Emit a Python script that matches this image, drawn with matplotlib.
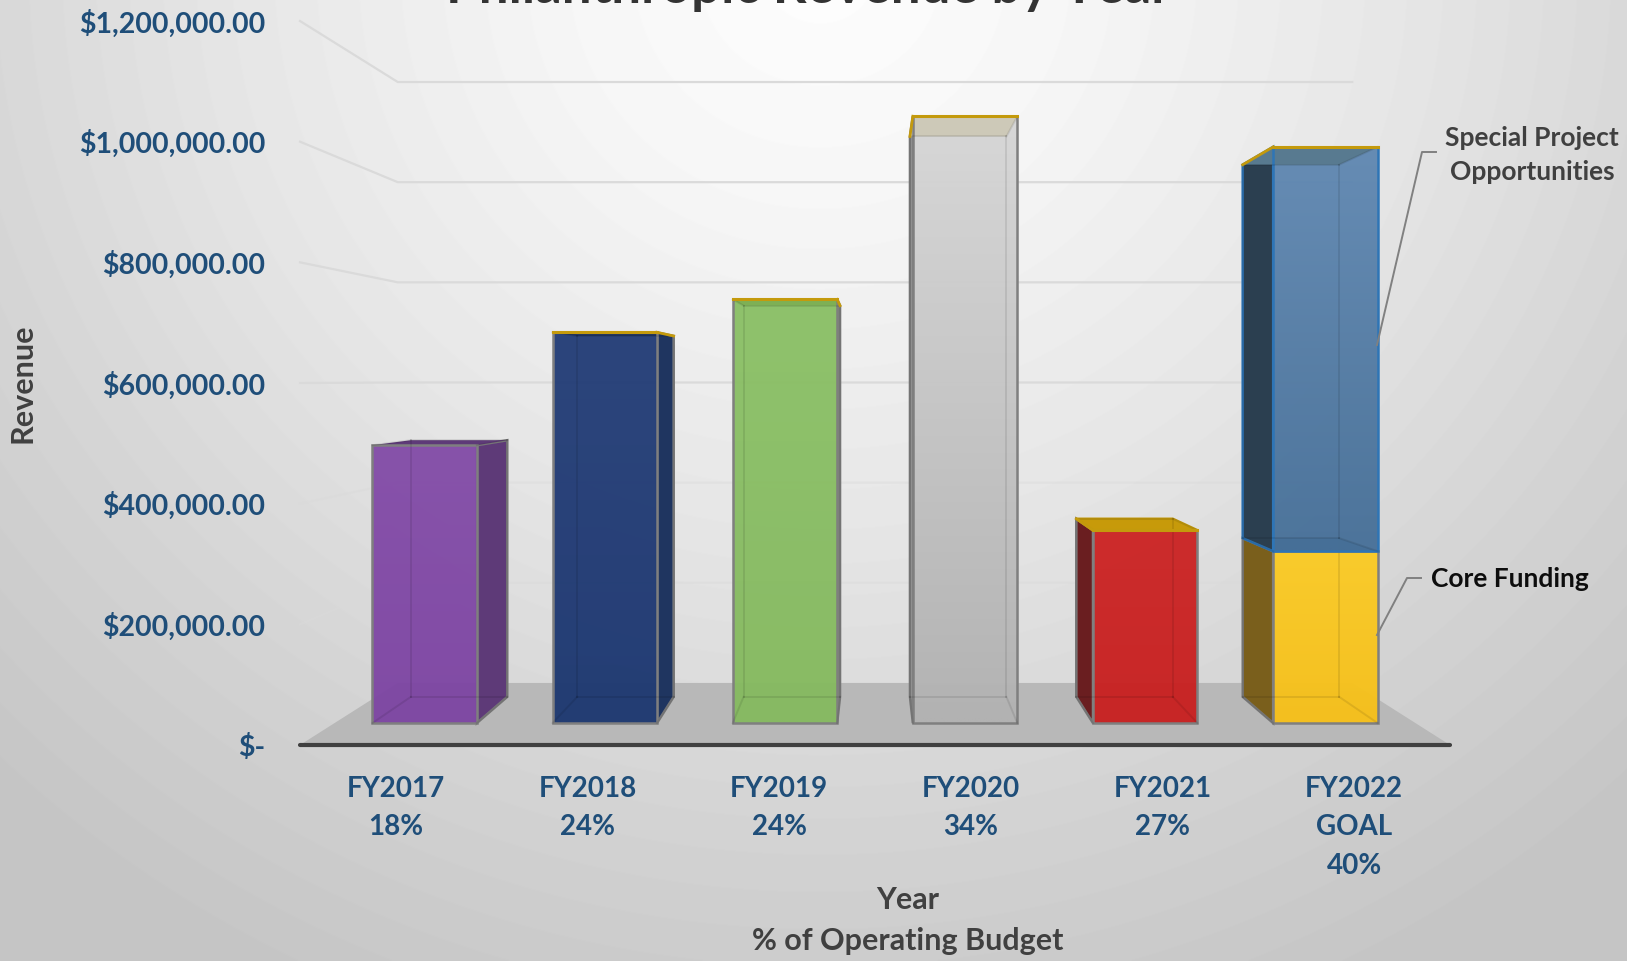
import numpy as np
import matplotlib
matplotlib.use('Agg')
import matplotlib.pyplot as plt
from matplotlib.colors import to_rgb
from matplotlib.lines import Line2D
from matplotlib.patches import Polygon

plt.rcParams['font.family'] = ['Lato', 'DejaVu Sans']
plt.rcParams['font.weight'] = 'bold'

W, H = 1627, 961

# data
YEARS = ['FY2017', 'FY2018', 'FY2019', 'FY2020', 'FY2021', 'FY2022\nGOAL']
PCT = ['18%', '24%', '24%', '34%', '27%', '40%']
CORE = [490000, 689000, 747000, 1070000, 340000, 303000]
SPECIAL = [0, 0, 0, 0, 0, 713000]
Y_TICKS = [0, 200000, 400000, 600000, 800000, 1000000, 1200000]
Y_LABELS = ['$-', '$200,000.00', '$400,000.00', '$600,000.00', '$800,000.00',
            '$1,000,000.00', '$1,200,000.00']

# face colours: front top, front bottom, side, top of box
CORE_FRONT = [('#834CA8', '#7D45A3'), ('#233D77', '#1C3770'), ('#8BC066', '#85BA5F'),
              ('#D6D6D6', '#B2B2B2'), ('#CC2424', '#C81F1F'), ('#FBCB24', '#F6C018')]
CORE_SIDE = ['#5E3A78', '#1F3560', '#6F9E52', '#A8A8A8', '#6A1E20', '#7A5F1C']
CORE_TOP = ['#5E3A78', '#1F3560', '#7EB055', '#CDC9B8', '#C79A0A', '#3F6888']
GOLD_EDGE = [False, True, True, True, True, False]
EDGE = '#7F7F7F'
SPECIAL_FRONT = ('#6088B2', '#477098')
SPECIAL_SIDE = '#2B3F50'
SPECIAL_TOP = '#587A90'
SPECIAL_EDGE = '#2E75B6'
GOLD = '#C49A0C'
BLUE_TEXT = '#1F4E79'
DARK_TEXT = '#404040'

# fake perspective, everything is shrunk towards this point
EYE_X = 2.5
EYE_Y = 605000
S_WALL = 0.83
S_FRONT = 0.94
S_BACK = 0.868
HALF = 0.29


def project(x, v, s):
	return (EYE_X + s * (x - EYE_X), EYE_Y + s * (v - EYE_Y))


def face(ax, pts, color, edge=None, z=3, lw=1.8, alpha=None):
	ax.add_patch(Polygon(pts, closed=True, facecolor=color, edgecolor=edge if edge else 'none',
		linewidth=lw if edge else 0, alpha=alpha, zorder=z, joinstyle='miter', clip_on=False))


def gradient_face(ax, x0, x1, v0, v1, top, bottom, z, alpha=0.96):
	t = np.linspace(0, 1, 64)[:, None, None]
	rgb = (1 - t) * np.array(to_rgb(top)) + t * np.array(to_rgb(bottom))
	rgba = np.dstack([rgb, np.full((64, 1), alpha)])
	ax.imshow(rgba, extent=(x0, x1, v0, v1), aspect='auto', zorder=z, clip_on=False,
		interpolation='bilinear')


def draw_box(ax, i, lo, hi, front, side, top, edge, gold, z):
	xl, xr = i - HALF, i + HALF
	fl_lo, fr_lo = project(xl, lo, S_FRONT), project(xr, lo, S_FRONT)
	fl_hi, fr_hi = project(xl, hi, S_FRONT), project(xr, hi, S_FRONT)
	bl_lo, br_lo = project(xl, lo, S_BACK), project(xr, lo, S_BACK)
	bl_hi, br_hi = project(xl, hi, S_BACK), project(xr, hi, S_BACK)

	# the side that can be seen is the one facing the middle of the chart
	if i < EYE_X:
		face(ax, [fr_lo, br_lo, br_hi, fr_hi], side, edge, z)
	else:
		face(ax, [fl_lo, bl_lo, bl_hi, fl_hi], side, edge, z)

	gradient_face(ax, fl_lo[0], fr_lo[0], fl_lo[1], fl_hi[1], front[0], front[1], z + 0.2)
	face(ax, [fl_hi, fr_hi, br_hi, bl_hi], top, GOLD if gold and hi < EYE_Y else None, z + 0.25)
	face(ax, [fl_lo, fr_lo, fr_hi, fl_hi], 'none', edge, z + 0.3)

	# back edges showing through the front face
	for a, b in [(bl_lo, bl_hi), (br_lo, br_hi), (bl_lo, br_lo), (bl_hi, br_hi),
				(fl_lo, bl_lo), (fr_lo, br_lo), (fl_hi, bl_hi), (fr_hi, br_hi)]:
		ax.plot([a[0], b[0]], [a[1], b[1]], color='#000000', alpha=0.09, lw=1.4, zorder=z + 0.4,
			clip_on=False)

	if gold:
		back_hi = bl_hi if i >= EYE_X else br_hi
		front_hi = fl_hi if i >= EYE_X else fr_hi
		ax.plot([fl_hi[0], fr_hi[0]], [fl_hi[1], fr_hi[1]], color=GOLD, lw=2.2, zorder=z + 0.5,
			clip_on=False)
		ax.plot([front_hi[0], back_hi[0]], [front_hi[1], back_hi[1]], color=GOLD, lw=2, zorder=z + 0.5,
			clip_on=False)


def draw_background(fig):
	bg = fig.add_axes([0, 0, 1, 1], zorder=-1)
	yy, xx = np.mgrid[0:H, 0:W]
	r = np.hypot(xx - 820, (yy + 30) * 1.05) / 1000
	grey = np.interp(r, [0, 0.25, 0.6, 0.9, 1.2], [0.995, 0.965, 0.90, 0.83, 0.77])
	bg.imshow(grey, cmap='gray', vmin=0, vmax=1, aspect='auto')
	bg.axis('off')


def leader(fig, xs, ys):
	fig.add_artist(Line2D([x / W for x in xs], [1 - y / H for y in ys], color='#808080', lw=1.4))


def main():
	fig = plt.figure(figsize=(W / 100, H / 100), dpi=100)
	draw_background(fig)

	ax = fig.add_axes([300 / W, 1 - 745 / H, 1150 / W, 724 / H])
	ax.patch.set_alpha(0)
	for spine in ax.spines.values():
		spine.set_visible(False)

	x_lo, x_hi = -0.5, len(YEARS) - 0.5

	# floor
	face(ax, [project(x_lo, 0, 1), project(x_hi, 0, 1), project(x_hi, 0, S_WALL), project(x_lo, 0, S_WALL)],
		'#B8B8B8', z=1.5)

	# grid on the back and left walls, the low ones nearly vanish
	for v in Y_TICKS[1:]:
		xs, ys = zip(project(x_lo, v, 1), project(x_lo, v, S_WALL), project(x_hi, v, S_WALL))
		ax.plot(xs, ys, color='#DADADA', lw=1.6, zorder=1, clip_on=False, alpha=0.45 if v < 600000 else 1)

	for i in range(len(YEARS)):
		z = 3 + i
		draw_box(ax, i, 0, CORE[i], CORE_FRONT[i], CORE_SIDE[i], CORE_TOP[i], EDGE, GOLD_EDGE[i], z)
		if SPECIAL[i] > 0:
			draw_box(ax, i, CORE[i], CORE[i] + SPECIAL[i], SPECIAL_FRONT, SPECIAL_SIDE, SPECIAL_TOP,
				SPECIAL_EDGE, True, z + 1)

	ax.plot([x_lo, x_hi], [0, 0], color='#404040', lw=3, zorder=20, clip_on=False, solid_capstyle='round')

	ax.set_xlim(x_lo, x_hi)
	ax.set_ylim(0, 1200000)
	ax.set_yticks(Y_TICKS)
	ax.set_yticklabels(Y_LABELS)
	ax.set_xticks(range(len(YEARS)))
	ax.set_xticklabels([f'{y}\n{p}' for y, p in zip(YEARS, PCT)], linespacing=1.6)
	ax.tick_params(axis='y', length=0, pad=25, labelsize=20.5, labelcolor=BLUE_TEXT)
	ax.tick_params(axis='x', length=0, pad=22, labelsize=20, labelcolor=BLUE_TEXT)

	ax.set_ylabel('Revenue', fontsize=22, fontweight='bold', color=DARK_TEXT, va='center', ha='center')
	ax.yaxis.set_label_coords((22 - 300) / 1150, 0.50)
	ax.set_xlabel('Year\n% of Operating Budget', fontsize=22, fontweight='bold', color=DARK_TEXT,
		linespacing=1.55, va='top')
	ax.xaxis.set_label_coords((908 - 300) / 1150, -(886 - 745) / 724)

	fig.text(809 / W, 1 - 3 / H, 'Philanthropic Revenue by Year', fontsize=38, color='#333333',
		ha='center', va='baseline')

	fig.text(1532 / W, 1 - 155 / H, 'Special Project\nOpportunities', fontsize=19, color=DARK_TEXT,
		ha='center', va='center', linespacing=1.55)
	fig.text(1510 / W, 1 - 579 / H, 'Core Funding', fontsize=19, color='#0D0D0D', ha='center', va='center')
	leader(fig, [1377, 1422, 1436], [345, 152, 152])
	leader(fig, [1377, 1407, 1421], [635, 578, 578])

	fig.savefig('out.png', dpi=100)


main()
